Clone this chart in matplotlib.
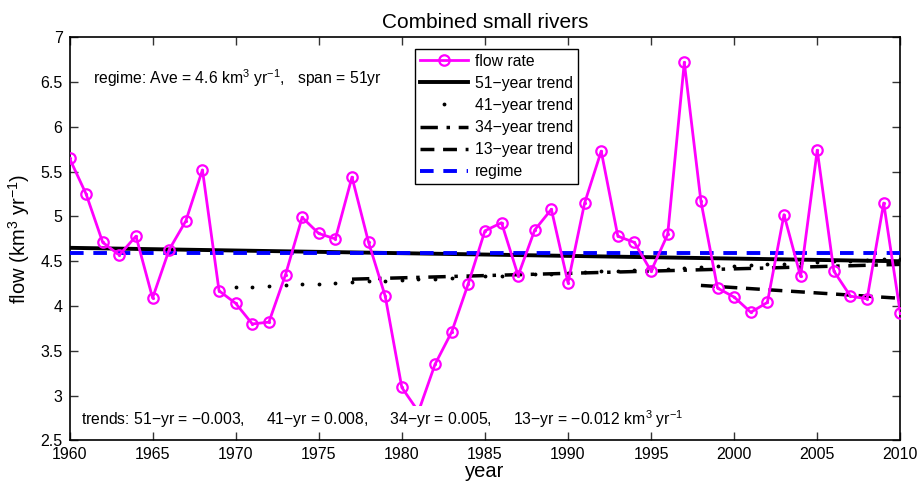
import numpy as np
import matplotlib
matplotlib.use("Agg")
import matplotlib.pyplot as plt

plt.rcParams["font.family"] = ["Liberation Sans", "DejaVu Sans"]
plt.rcParams["mathtext.fontset"] = "custom"
plt.rcParams["mathtext.rm"] = "Liberation Sans"
plt.rcParams["mathtext.it"] = "Liberation Sans:italic"
plt.rcParams["axes.unicode_minus"] = True

# annual flow, km3/yr
years = list(range(1960, 2011))
flow = [5.65, 5.25, 4.71, 4.57, 4.78, 4.09, 4.63, 4.95, 5.52, 4.17,
        4.03, 3.80, 3.82, 4.35, 4.99, 4.81, 4.75, 5.44, 4.71, 4.11,
        3.09, 2.82, 3.35, 3.71, 4.25, 4.84, 4.93, 4.34, 4.85, 5.08,
        4.26, 5.15, 5.73, 4.78, 4.71, 4.39, 4.80, 6.72, 5.17, 4.20,
        4.10, 3.93, 4.04, 5.02, 4.33, 5.74, 4.39, 4.11, 4.08, 5.15,
        3.92]

regime_ave = 4.59

# trend segments: (first year, last year, value at first year, slope per year)
trend51 = (1960, 2010, 4.65, -0.003)
trend41 = (1970, 2010, 4.21, 0.008)
trend34 = (1977, 2010, 4.30, 0.005)
trend13 = (1998, 2010, 4.23, -0.012)


def trend_line(seg):
    y0, y1, v0, k = seg
    t = np.arange(y0, y1 + 1)
    return t, v0 + k * (t - y0)


fig = plt.figure(figsize=(9.17, 4.86), dpi=100)
ax = fig.add_axes([0.0758, 0.094, 0.906, 0.829])

ax.plot(years, flow, color="#ff00ff", lw=2, marker="o", ms=7.5, mfc="none",
        mew=1.6, label="flow rate", zorder=5)
ax.plot(years, flow, ls="none", marker=".", ms=2.5, color="#ff00ff", zorder=5)

t, v = trend_line(trend51)
ax.plot(t, v, color="k", lw=2.8, label="51\u2212year trend", zorder=4)
t, v = trend_line(trend41)
ax.plot(t, v, ls="none", marker=".", ms=3.5, color="k", label="41\u2212year trend", zorder=4)
t, v = trend_line(trend34)
ax.plot(t, v, color="k", lw=2.5, ls=(0, (5, 2.5, 1, 2.5)), label="34\u2212year trend", zorder=4)
t, v = trend_line(trend13)
ax.plot(t, v, color="k", lw=2.5, ls=(0, (4, 2.5)), label="13\u2212year trend", zorder=4)
ax.plot([1960, 2010], [regime_ave, regime_ave], color="#0000ff", lw=2.8,
        ls=(0, (3.5, 2.5)), label="regime", zorder=4)

ax.set_xlim(1960, 2010)
ax.set_ylim(2.5, 7)
ax.set_xticks(range(1960, 2011, 5))
ax.set_yticks(np.arange(2.5, 7.01, 0.5))
ax.set_yticklabels(["2.5", "3", "3.5", "4", "4.5", "5", "5.5", "6", "6.5", "7"])
ax.tick_params(direction="in", length=6, width=1, labelsize=11.5, top=True, right=True,
               color="#333333")
ax.tick_params(axis="y", pad=5)
ax.tick_params(axis="x", pad=5)
for s in ax.spines.values():
    s.set_linewidth(1.2)

ax.set_title("Combined small rivers", fontsize=15, pad=7)
ax.set_xlabel("year", fontsize=14.5, labelpad=0)
ax.set_ylabel("flow (km$^{3}$ yr$^{-1}$)", fontsize=14.5, labelpad=6)

ax.text(0.028, 0.899, "regime: Ave = 4.6 km$^{3}$ yr$^{\u22121}$,   span = 51yr",
        transform=ax.transAxes, fontsize=11.3, va="center", ha="left")
ax.text(0.014, 0.052,
        "trends: 51\u2212yr = \u22120.003,     41\u2212yr = 0.008,     "
        "34\u2212yr = 0.005,     13\u2212yr = \u22120.012 km$^{3}$ yr$^{\u22121}$",
        transform=ax.transAxes, fontsize=11.3, va="center", ha="left", zorder=10,
        bbox=dict(facecolor="white", edgecolor="none", pad=1.5))

leg = ax.legend(loc="upper left", bbox_to_anchor=(0.416, 0.971), borderaxespad=0,
                fontsize=11.3, handlelength=3.1, handletextpad=0.4,
                labelspacing=0.45, borderpad=0.3,
                fancybox=False, framealpha=1, edgecolor="k")
leg.get_frame().set_linewidth(1.0)
leg.set_zorder(20)

fig.savefig("out.png", dpi=100)
